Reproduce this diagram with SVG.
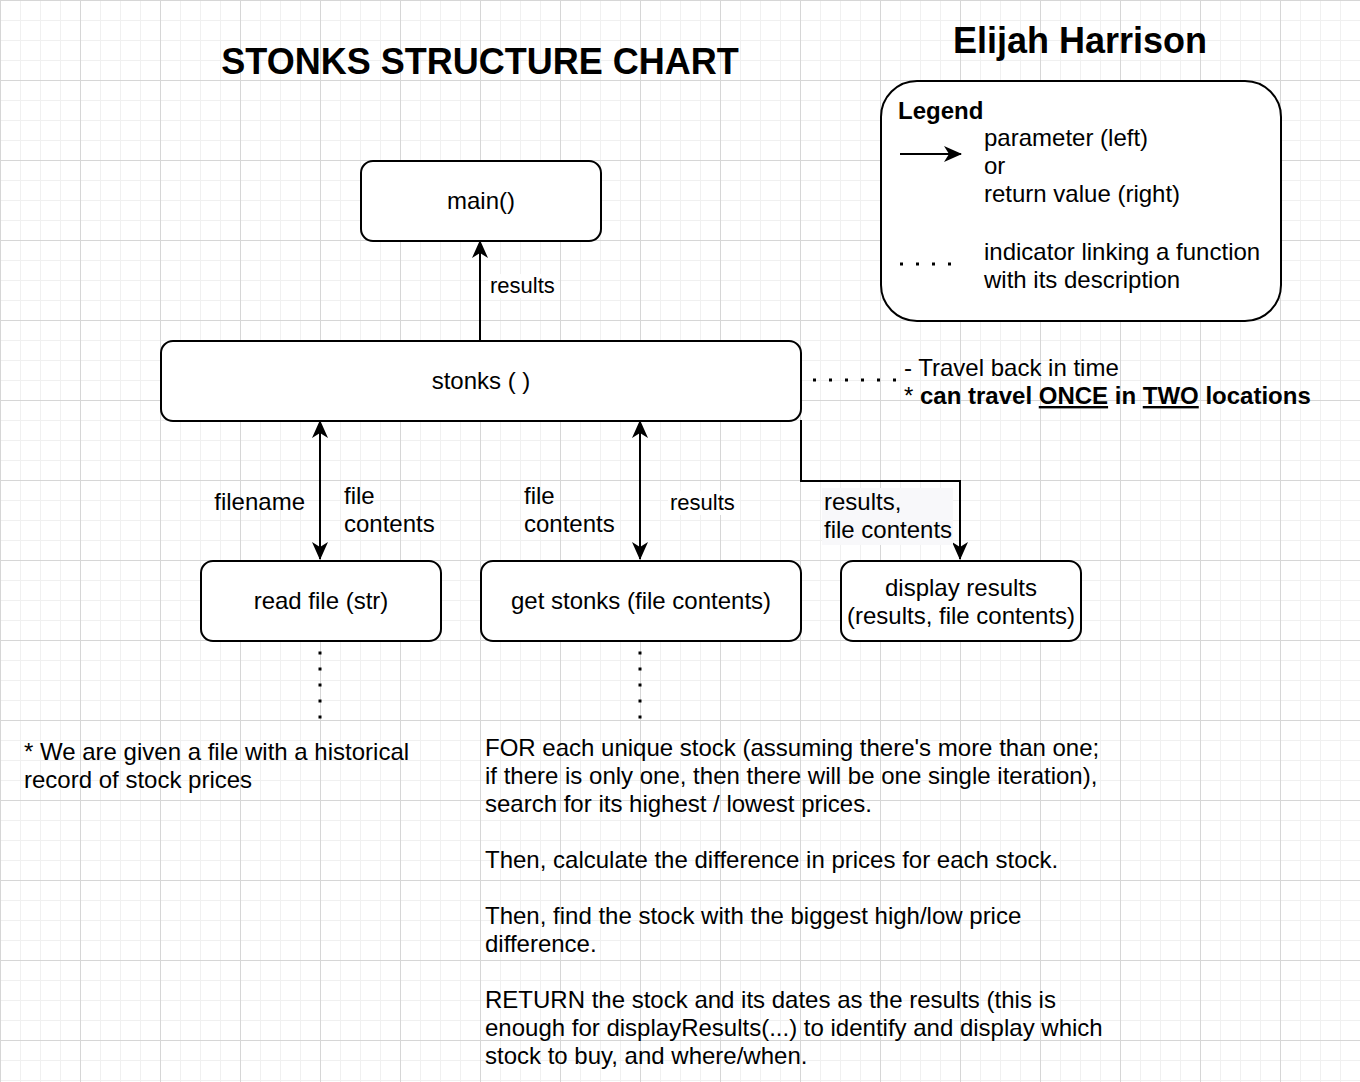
<svg xmlns="http://www.w3.org/2000/svg" width="1360" height="1082" viewBox="0 0 1360 1082">
<style>
text{font-family:"Liberation Sans",Arial,Helvetica,sans-serif;fill:#000}
.t{font-size:24px}
.e{font-size:22px}
.b{font-weight:bold}
.m{text-anchor:middle}
.node{fill:#fff;stroke:#000;stroke-width:2}
.edge{fill:none;stroke:#000;stroke-width:2}
.dots{fill:none;stroke:#000;stroke-width:3;stroke-dasharray:3 13}
</style>
<defs>
<pattern id="grid" width="80" height="80" patternUnits="userSpaceOnUse">
<path d="M20.5 0V80M40.5 0V80M60.5 0V80M0 20.5H80M0 40.5H80M0 60.5H80" stroke="#f0f0f0" stroke-width="1" fill="none"/>
<path d="M0.5 0V80M0 0.5H80" stroke="#d6d6d6" stroke-width="1" fill="none"/>
</pattern>
<marker id="arr" markerUnits="userSpaceOnUse" markerWidth="18" markerHeight="16" refX="17" refY="8" orient="auto-start-reverse" overflow="visible">
<path d="M0 0L18 8L0 16L5 8Z" fill="#000"/>
</marker>
</defs>
<rect width="1360" height="1082" fill="#fff"/>
<rect width="1360" height="1082" fill="url(#grid)"/>

<g id="title"><text class="b m" x="480" y="74" style="font-size:36px">STONKS STRUCTURE CHART</text></g>
<g id="author"><text class="b m" x="1080" y="53" style="font-size:36px">Elijah Harrison</text></g>

<g id="legend">
<rect x="881" y="81" width="400" height="240" rx="36" class="node"/>
<text class="t b" x="898" y="119">Legend</text>
<line x1="900" y1="154" x2="961" y2="154" class="edge" marker-end="url(#arr)"/>
<text class="t" x="984" y="146">parameter (left)</text>
<text class="t" x="984" y="174">or</text>
<text class="t" x="984" y="202">return value (right)</text>
<line x1="900" y1="264" x2="954" y2="264" class="dots"/>
<text class="t" x="984" y="260">indicator linking a function</text>
<text class="t" x="984" y="288">with its description</text>
</g>

<g id="connectors">
<line x1="480" y1="340" x2="480" y2="241" class="edge" marker-end="url(#arr)"/>
<line x1="320" y1="421" x2="320" y2="559" class="edge" marker-start="url(#arr)" marker-end="url(#arr)"/>
<line x1="640" y1="421" x2="640" y2="559" class="edge" marker-start="url(#arr)" marker-end="url(#arr)"/>
<path d="M801 420V481H960V559" class="edge" marker-end="url(#arr)"/>
<line x1="813" y1="380" x2="902" y2="380" class="dots"/>
<line x1="320" y1="651.5" x2="320" y2="720" class="dots"/>
<line x1="640" y1="651.5" x2="640" y2="720" class="dots"/>
<rect x="488" y="274" width="70" height="24" fill="#fff"/>
<text class="e" x="490" y="293">results</text>
<text class="t" x="305" y="510" text-anchor="end">filename</text>
<text class="t" x="344" y="504">file</text>
<text class="t" x="344" y="532">contents</text>
<text class="t" x="524" y="504">file</text>
<text class="t" x="524" y="532">contents</text>
<rect x="668" y="491" width="70" height="24" fill="#fff"/>
<text class="e" x="670" y="510">results</text>
<rect x="822" y="488" width="131" height="57" fill="#f8f8fa"/>
<text class="t" x="824" y="510">results,</text>
<text class="t" x="824" y="538">file contents</text>
</g>

<g id="main"><rect x="361" y="161" width="240" height="80" rx="12" class="node"/><text class="t m" x="481" y="209">main()</text></g>
<g id="stonks"><rect x="161" y="341" width="640" height="80" rx="12" class="node"/><text class="t m" x="481" y="389">stonks ( )</text></g>
<g id="readfile"><rect x="201" y="561" width="240" height="80" rx="12" class="node"/><text class="t m" x="321" y="609">read file (str)</text></g>
<g id="getstonks"><rect x="481" y="561" width="320" height="80" rx="12" class="node"/><text class="t m" x="641" y="609">get stonks (file contents)</text></g>
<g id="display"><rect x="841" y="561" width="240" height="80" rx="12" class="node"/><text class="t m" x="961" y="596">display results</text><text class="t m" x="961" y="624">(results, file contents)</text></g>

<g id="stonks-note">
<text class="t" x="904" y="376">- Travel back in time</text>
<text class="t" x="904" y="404">* <tspan class="b">can travel </tspan><tspan class="b" text-decoration="underline">ONCE</tspan><tspan class="b"> in </tspan><tspan class="b" text-decoration="underline">TWO</tspan><tspan class="b"> locations</tspan></text>
</g>

<g id="readfile-note">
<text class="t" x="24" y="760">* We are given a file with a historical</text>
<text class="t" x="24" y="788">record of stock prices</text>
</g>

<g id="getstonks-note">
<text class="t" x="485" y="756">FOR each unique stock (assuming there's more than one;</text>
<text class="t" x="485" y="784">if there is only one, then there will be one single iteration),</text>
<text class="t" x="485" y="812">search for its highest / lowest prices.</text>
<text class="t" x="485" y="868">Then, calculate the difference in prices for each stock.</text>
<text class="t" x="485" y="924">Then, find the stock with the biggest high/low price</text>
<text class="t" x="485" y="952">difference.</text>
<text class="t" x="485" y="1008">RETURN the stock and its dates as the results (this is</text>
<text class="t" x="485" y="1036">enough for displayResults(...) to identify and display which</text>
<text class="t" x="485" y="1064">stock to buy, and where/when.</text>
</g>
</svg>
